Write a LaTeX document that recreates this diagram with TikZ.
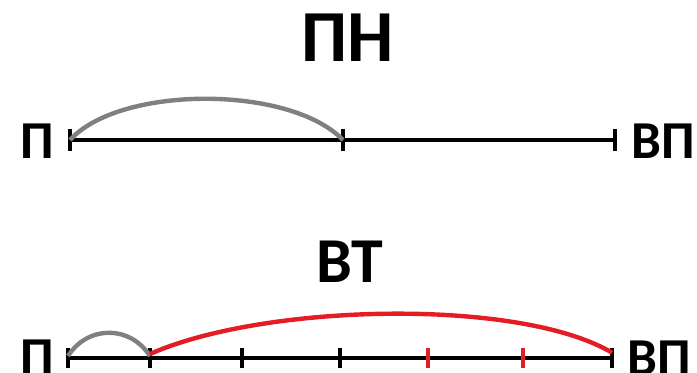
\documentclass[tikz,border=0pt]{standalone}
\usepackage{fontspec}
\setmainfont{Carlito}
\usetikzlibrary{positioning}
\definecolor{arcg}{RGB}{128,128,128}
\definecolor{arcr}{RGB}{228,28,36}
\tikzset{
  ln/.style={line width=3pt, draw=black},
  tk/.style={line width=3.3pt, draw=black},
  % dugi nad skalom
  ag/.style={line width=3.3pt, draw=arcg},
  ar/.style={line width=3.3pt, draw=arcr},
  ttl/.style={inner sep=0pt, font=\fontsize{55}{60}\selectfont\bfseries},
  lbl/.style={inner sep=0pt, font=\fontsize{40}{44}\selectfont\bfseries}
}

\begin{document}
\begin{tikzpicture}[x=0.75pt, y=-0.75pt]
  \useasboundingbox (0,0) rectangle (697,372);

  % --- verkhnyaya shkala ---
  \node[ttl] (pn) at (348,38) {ПН};
  \coordinate (a0) at (70,140);
  \coordinate (a1) at (343,140);
  \coordinate (a2) at (615,140);
  \node[lbl, anchor=center] (pa) at (37,141) {П};
  \node[lbl, anchor=west] (vpa) at (631,141) {ВП};
  \draw[ln] (a0) -- (a2);
  \foreach \p in {a0,a1,a2}
    \draw[tk] (\p) ++(0,-11) -- ++(0,22);
  \draw[ag] (a0) .. controls (120,85) and (290,85) .. (a1);

  % --- nizhnyaya shkala ---
  \node[ttl, font=\fontsize{48}{52}\selectfont\bfseries] (vt) at (350,262) {ВТ};
  \foreach \n/\x in {0/68,1/150,2/242,3/340,4/428,5/523,6/612}
    \coordinate (b\n) at (\x,358);
  \node[lbl, anchor=center] (pb) at (37,357) {П};
  \node[lbl, anchor=west] (vpb) at (627,358) {ВП};
  \draw[ln] (b0) -- (b6);
  \foreach \p in {b0,b1,b2,b3,b6}
    \draw[tk] (\p) ++(0,-10) -- ++(0,20);
  \foreach \p in {b4,b5}
    \draw[tk, draw=arcr, line width=2.8pt] (\p) ++(0,-10) -- ++(0,20);
  \draw[ag] (b0) ++(0,-2) .. controls (88,325) and (130,325) .. ([yshift=1.5pt]b1);
  \draw[ar] ([yshift=3pt]b1) .. controls (265,303) and (520,298) .. ([yshift=4pt]b6);
\end{tikzpicture}
\end{document}
